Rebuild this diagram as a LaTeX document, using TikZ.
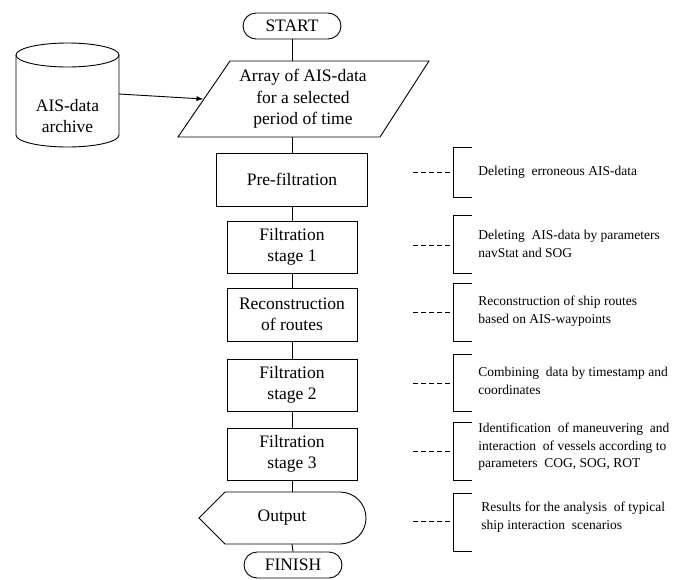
\documentclass[tikz,border=0pt]{standalone}
\usepackage{fontspec}
\setmainfont{Liberation Serif}
\usetikzlibrary{arrows.meta}
\newcommand\mainfs{\fontsize{17.5}{21.5}\selectfont}
\newcommand\notefs{\fontsize{13.5}{17.5}\selectfont}
\begin{document}
\begin{tikzpicture}[x=1pt,y=-1pt,line width=0.9pt,
  box/.style={draw, minimum width=130pt, minimum height=52pt, inner sep=0pt, align=center, font=\mainfs},
  term/.style={draw, rounded corners=13pt, minimum width=98pt, minimum height=26pt, inner sep=0pt, font=\mainfs},
  txt/.style={align=center, font=\mainfs, inner sep=0pt},
  note/.style={anchor=west, align=left, font=\notefs, inner sep=0pt},
  lead/.style={dash pattern=on 5pt off 3pt, line width=0.8pt},
  conn/.style={line width=0.9pt}]
\useasboundingbox (0,0) rectangle (680,579);

% terminals
\node[term] (start) at (292,26) {START};
\node[term] (finish) at (293,565) {FINISH};

% parallelogram (input)
\draw (230,61) -- (429,61) -- (380,137) -- (178,137) -- cycle;
\node[txt] (arr) at (303,99) {Array of AIS-data\\for a selected\\period of time};
\coordinate (arrtop) at (292,61);
\coordinate (arrbot) at (292,137);
\coordinate (arrleft) at (203.5,99);

% database cylinder
\draw (16,55) -- (16,135) arc[start angle=180, end angle=360, x radius=51.5, y radius=-12] -- (119,55);
\draw (67.5,55) ellipse [x radius=51.5, y radius=12];
\node[txt] (db) at (67.5,116) {AIS-data\\archive};
\coordinate (dbright) at (119,94);

% process boxes
\node[box, minimum width=151pt, minimum height=53pt] (pre) at (292,179.5) {Pre-filtration};
\node[box] (f1) at (292,247) {Filtration\\stage 1};
\node[box, minimum height=53pt] (rec) at (292,314.5) {Reconstruction\\of routes};
\node[box] (f2) at (292,385) {Filtration\\stage 2};
\node[box] (f3) at (292,454) {Filtration\\stage 3};

% output (display) shape
\draw (199,518) -- (225,492) -- (340,492) arc[start angle=-90, end angle=90, radius=26] -- (225,544) -- cycle;
\node[txt] (out) at (282,518) {Output};
\coordinate (outtop) at (292,492);
\coordinate (outbot) at (292,544);

% connectors
\draw[conn] (start.south) -- (arrtop);
\draw[conn] (arrbot) -- (pre.north);
\draw[conn] (pre.south) -- (f1.north);
\draw[conn] (f1.south) -- (rec.north);
\draw[conn] (rec.south) -- (f2.north);
\draw[conn] (f2.south) -- (f3.north);
\draw[conn] (f3.south) -- (outtop);
\draw[conn] (outbot) -- (finish.north);
\draw[conn, -{Latex[length=7pt,width=5pt]}] (dbright) -- (arrleft);

% annotations
\node[note] (n1) at (478,172) {Deleting\ \ erroneous AIS-data};
\node[note] (n2) at (478,244) {Deleting\ \ AIS-data by parameters\\navStat and SOG};
\node[note] (n3) at (478,311) {Reconstruction of ship routes\\based on AIS-waypoints};
\node[note] (n4) at (478,381) {Combining\ \ data by timestamp and\\coordinates};
\node[note] (n5) at (478,447) {Identification\ \ of maneuvering\ \ and\\interaction\ \ of vessels according to\\parameters\ \ COG, SOG, ROT};
\node[note] (n6) at (481,517) {Results for the analysis\ \ of typical\\ship interaction\ \ scenarios};

\foreach \t/\b/\m in {147/197/172, 215/273/245, 283/341/312, 354/411/383, 422/480/451, 493/551/521}{
  \draw[lead] (413,\m) -- (453,\m);
  \draw (472,\t) -- (453,\t) -- (453,\b) -- (472,\b);
}
\end{tikzpicture}
\end{document}
